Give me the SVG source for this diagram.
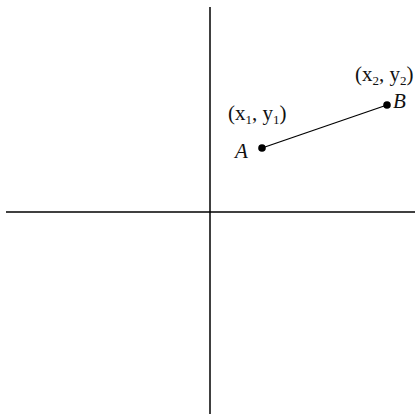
<svg xmlns="http://www.w3.org/2000/svg" width="417" height="415" viewBox="0 0 417 415">
<style>
.ax{stroke:#000;stroke-width:1.5;fill:none}
.seg{stroke:#000;stroke-width:1.3}
.pt{fill:#000}
.t{font-family:"Liberation Serif","DejaVu Serif",serif;font-size:21px;fill:#111}
.lbl{font-family:"Liberation Serif","DejaVu Serif",serif;font-size:21px;font-style:italic;fill:#111}
.sub{font-size:13px}
</style>
<rect width="417" height="415" fill="#fff"/>
<g id="axes">
<line class="ax" x1="210" y1="7" x2="210" y2="414"/>
<line class="ax" x1="6" y1="212" x2="415" y2="212"/>
</g>
<g id="connectors">
<line class="seg" x1="262" y1="148" x2="387" y2="105"/>
</g>
<g id="A">
<circle class="pt" cx="262" cy="148" r="3.8"/>
<text class="lbl" x="235" y="158">A</text>
<text class="t" x="228" y="120">(x<tspan class="sub" dy="4">1</tspan><tspan dy="-4">, y</tspan><tspan class="sub" dy="4">1</tspan><tspan dy="-4">)</tspan></text>
</g>
<g id="B">
<circle class="pt" cx="387" cy="105" r="3.8"/>
<text class="lbl" x="393" y="108">B</text>
<text class="t" x="355" y="81">(x<tspan class="sub" dy="4">2</tspan><tspan dy="-4">, y</tspan><tspan class="sub" dy="4">2</tspan><tspan dy="-4">)</tspan></text>
</g>
</svg>
